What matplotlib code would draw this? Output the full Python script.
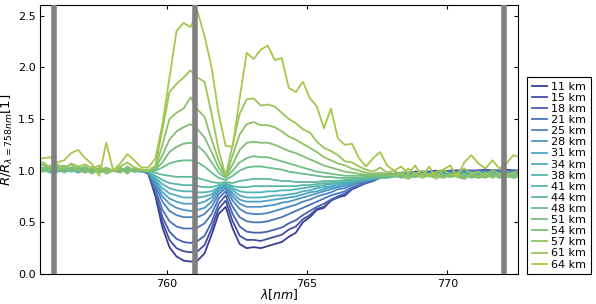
import numpy as np
import matplotlib
matplotlib.use("Agg")
import matplotlib.pyplot as plt
from matplotlib.colors import LinearSegmentedColormap

# Wavelength grid of the spectra [nm]
wavelength = np.linspace(755.35, 772.60, 70)

altitudes = ["11 km", "15 km", "18 km", "21 km", "25 km", "28 km", "31 km", "34 km", "38 km",
             "41 km", "44 km", "48 km", "51 km", "54 km", "57 km", "61 km", "64 km"]

# R / R(758nm) per tangent altitude
r_11 = [1.01, 1.00, 1.00, 1.01, 1.00, 1.00, 1.00, 1.00, 1.01, 1.00, 1.00, 1.00, 1.00, 1.00, 1.00, 1.00,
        0.97, 0.75, 0.45, 0.26, 0.17, 0.13, 0.12, 0.13, 0.20, 0.38, 0.58, 0.65, 0.44, 0.29, 0.25, 0.26, 0.25,
        0.27, 0.29, 0.31, 0.36, 0.40, 0.50, 0.55, 0.62, 0.64, 0.71, 0.75, 0.76, 0.83, 0.86, 0.90, 0.92, 0.96, 0.97,
        0.97, 0.98, 0.98, 0.99, 0.99, 0.99, 1.00, 0.99, 1.00, 1.00, 1.00, 1.00, 1.00, 1.01, 1.00, 1.00, 1.01, 1.00, 1.00]
r_15 = [1.00, 1.01, 1.00, 1.00, 1.01, 1.00, 1.00, 1.01, 1.00, 1.00, 1.00, 1.00, 1.01, 1.00, 1.00, 1.00,
        0.97, 0.77, 0.50, 0.33, 0.25, 0.22, 0.21, 0.22, 0.28, 0.44, 0.63, 0.71, 0.51, 0.37, 0.33, 0.33, 0.32,
        0.34, 0.36, 0.38, 0.43, 0.46, 0.53, 0.57, 0.63, 0.65, 0.71, 0.74, 0.76, 0.82, 0.85, 0.88, 0.90, 0.94, 0.96,
        0.97, 0.98, 0.98, 0.98, 0.99, 0.99, 0.99, 0.99, 1.00, 1.00, 1.00, 1.00, 1.00, 1.00, 1.00, 1.00, 1.00, 1.00, 1.00]
r_18 = [1.02, 1.01, 1.00, 1.01, 1.00, 1.01, 1.00, 1.00, 1.00, 1.01, 1.00, 1.00, 1.00, 1.01, 1.00, 1.00,
        0.98, 0.79, 0.55, 0.41, 0.34, 0.31, 0.30, 0.32, 0.37, 0.50, 0.68, 0.76, 0.58, 0.46, 0.41, 0.40, 0.40,
        0.41, 0.43, 0.45, 0.49, 0.52, 0.57, 0.61, 0.65, 0.68, 0.72, 0.75, 0.78, 0.82, 0.85, 0.88, 0.90, 0.93, 0.95,
        0.96, 0.97, 0.98, 0.98, 0.98, 0.99, 0.99, 0.99, 0.99, 1.00, 1.00, 0.99, 1.00, 1.00, 1.00, 1.00, 1.00, 1.00, 1.00]
r_21 = [1.01, 1.02, 1.00, 1.00, 1.02, 1.01, 1.00, 0.99, 1.00, 1.00, 1.00, 1.00, 1.01, 1.00, 1.00, 1.00,
        0.98, 0.82, 0.62, 0.51, 0.46, 0.44, 0.44, 0.45, 0.49, 0.58, 0.73, 0.80, 0.65, 0.55, 0.51, 0.50, 0.50,
        0.51, 0.53, 0.55, 0.58, 0.61, 0.64, 0.67, 0.70, 0.73, 0.76, 0.78, 0.80, 0.84, 0.86, 0.89, 0.91, 0.93, 0.95,
        0.96, 0.97, 0.97, 0.98, 0.98, 0.98, 0.99, 0.99, 0.99, 0.99, 0.99, 1.00, 0.99, 1.00, 0.99, 1.00, 1.00, 0.99, 1.00]
r_25 = [1.02, 1.00, 1.01, 0.99, 1.01, 1.02, 1.00, 1.00, 1.01, 0.99, 1.00, 1.00, 1.00, 1.01, 1.00, 0.99,
        0.99, 0.85, 0.70, 0.61, 0.57, 0.55, 0.55, 0.55, 0.58, 0.65, 0.77, 0.83, 0.71, 0.63, 0.59, 0.58, 0.58,
        0.59, 0.61, 0.63, 0.65, 0.67, 0.70, 0.72, 0.75, 0.77, 0.79, 0.82, 0.83, 0.86, 0.88, 0.90, 0.91, 0.93, 0.95,
        0.96, 0.96, 0.97, 0.97, 0.98, 0.98, 0.98, 0.98, 0.99, 0.99, 0.99, 0.99, 0.99, 0.99, 0.99, 0.99, 0.99, 0.99, 0.99]
r_28 = [1.00, 1.02, 0.99, 1.01, 1.00, 1.01, 1.02, 0.99, 1.00, 1.01, 0.99, 1.00, 1.01, 1.00, 1.00, 1.00,
        0.99, 0.87, 0.75, 0.68, 0.64, 0.62, 0.61, 0.62, 0.64, 0.70, 0.80, 0.85, 0.75, 0.68, 0.65, 0.65, 0.65,
        0.66, 0.67, 0.69, 0.70, 0.72, 0.74, 0.76, 0.78, 0.80, 0.82, 0.84, 0.85, 0.87, 0.89, 0.90, 0.92, 0.93, 0.95,
        0.96, 0.96, 0.97, 0.97, 0.97, 0.98, 0.98, 0.98, 0.98, 0.98, 0.98, 0.99, 0.98, 0.99, 0.98, 0.98, 0.99, 0.98, 0.98]
r_31 = [1.03, 1.01, 1.00, 1.02, 0.99, 1.00, 1.01, 1.00, 1.02, 1.00, 1.00, 1.00, 0.99, 1.01, 1.00, 1.00,
        0.99, 0.89, 0.79, 0.73, 0.70, 0.68, 0.68, 0.68, 0.70, 0.74, 0.82, 0.86, 0.78, 0.72, 0.70, 0.70, 0.70,
        0.71, 0.72, 0.73, 0.74, 0.75, 0.77, 0.79, 0.80, 0.82, 0.84, 0.85, 0.87, 0.88, 0.90, 0.91, 0.92, 0.94, 0.95,
        0.96, 0.96, 0.96, 0.97, 0.97, 0.97, 0.97, 0.98, 0.97, 0.98, 0.98, 0.98, 0.98, 0.98, 0.98, 0.97, 0.98, 0.98, 0.97]
r_34 = [1.01, 1.03, 1.00, 1.00, 1.02, 0.99, 1.01, 1.02, 0.99, 1.01, 1.00, 1.00, 1.01, 0.99, 1.00, 1.00,
        0.99, 0.91, 0.83, 0.78, 0.76, 0.74, 0.74, 0.74, 0.75, 0.77, 0.83, 0.87, 0.81, 0.76, 0.74, 0.74, 0.74,
        0.75, 0.76, 0.76, 0.77, 0.78, 0.80, 0.81, 0.83, 0.84, 0.85, 0.87, 0.88, 0.89, 0.90, 0.92, 0.93, 0.94, 0.95,
        0.96, 0.96, 0.96, 0.96, 0.97, 0.97, 0.97, 0.97, 0.97, 0.97, 0.97, 0.98, 0.97, 0.97, 0.97, 0.97, 0.97, 0.97, 0.97]
r_38 = [0.99, 1.02, 1.01, 1.03, 1.00, 1.01, 0.98, 1.01, 1.00, 1.02, 0.99, 1.00, 1.00, 1.01, 0.99, 1.00,
        0.99, 0.93, 0.87, 0.83, 0.81, 0.80, 0.80, 0.79, 0.79, 0.80, 0.84, 0.88, 0.83, 0.80, 0.79, 0.79, 0.79,
        0.80, 0.80, 0.81, 0.81, 0.82, 0.83, 0.84, 0.85, 0.86, 0.87, 0.88, 0.89, 0.90, 0.91, 0.92, 0.93, 0.94, 0.95,
        0.96, 0.95, 0.96, 0.96, 0.96, 0.96, 0.97, 0.96, 0.97, 0.96, 0.97, 0.97, 0.96, 0.97, 0.96, 0.96, 0.97, 0.96, 0.96]
r_41 = [1.02, 1.00, 1.03, 0.99, 1.01, 1.03, 1.00, 0.99, 1.02, 1.00, 1.01, 1.00, 0.99, 1.01, 1.00, 0.99,
        0.99, 0.95, 0.91, 0.88, 0.87, 0.86, 0.86, 0.85, 0.84, 0.84, 0.86, 0.88, 0.85, 0.84, 0.84, 0.85, 0.85,
        0.85, 0.85, 0.85, 0.85, 0.85, 0.86, 0.86, 0.87, 0.88, 0.88, 0.89, 0.90, 0.91, 0.92, 0.93, 0.94, 0.94, 0.95,
        0.95, 0.96, 0.95, 0.96, 0.96, 0.95, 0.96, 0.96, 0.95, 0.96, 0.96, 0.96, 0.95, 0.96, 0.95, 0.96, 0.95, 0.96, 0.95]
r_44 = [1.04, 1.01, 0.98, 1.02, 1.00, 1.02, 0.99, 1.03, 1.00, 0.98, 1.01, 1.00, 1.02, 0.99, 1.01, 1.00,
        1.00, 0.98, 0.96, 0.95, 0.94, 0.94, 0.94, 0.93, 0.91, 0.89, 0.88, 0.89, 0.88, 0.90, 0.91, 0.92, 0.92,
        0.92, 0.91, 0.90, 0.90, 0.89, 0.89, 0.89, 0.89, 0.90, 0.90, 0.90, 0.91, 0.91, 0.92, 0.92, 0.93, 0.93, 0.93,
        0.94, 0.95, 0.95, 0.94, 0.96, 0.95, 0.94, 0.96, 0.95, 0.95, 0.94, 0.96, 0.95, 0.94, 0.95, 0.95, 0.94, 0.95, 0.95]
r_48 = [0.97, 1.03, 1.01, 0.99, 1.04, 1.00, 1.02, 0.98, 1.03, 1.00, 0.99, 1.00, 1.01, 1.02, 0.99, 1.00,
        1.00, 1.00, 1.03, 1.07, 1.09, 1.10, 1.10, 1.08, 1.04, 0.98, 0.93, 0.91, 0.95, 1.00, 1.03, 1.04, 1.04,
        1.03, 1.02, 1.01, 0.99, 0.98, 0.97, 0.96, 0.95, 0.94, 0.94, 0.93, 0.93, 0.93, 0.93, 0.94, 0.94, 0.94, 0.94,
        0.95, 0.94, 0.96, 0.94, 0.95, 0.96, 0.93, 0.95, 0.94, 0.96, 0.94, 0.95, 0.93, 0.95, 0.96, 0.94, 0.95, 0.93, 0.95]
r_51 = [1.05, 0.99, 1.02, 1.04, 0.98, 1.03, 1.01, 1.04, 0.99, 1.02, 0.97, 1.00, 1.03, 0.99, 1.02, 1.00,
        1.00, 1.01, 1.08, 1.18, 1.23, 1.26, 1.27, 1.24, 1.18, 1.08, 0.98, 0.93, 1.00, 1.08, 1.12, 1.14, 1.13,
        1.13, 1.11, 1.09, 1.07, 1.05, 1.03, 1.01, 0.99, 0.98, 0.97, 0.96, 0.95, 0.95, 0.95, 0.95, 0.95, 0.95, 0.95,
        0.96, 0.93, 0.95, 0.97, 0.94, 0.95, 0.93, 0.96, 0.94, 0.95, 0.97, 0.93, 0.95, 0.94, 0.96, 0.93, 0.95, 0.94, 0.96]
r_54 = [1.03, 1.06, 1.00, 1.03, 1.05, 0.99, 1.04, 1.01, 0.97, 1.03, 1.01, 1.00, 0.98, 1.04, 1.00, 1.01,
        1.00, 1.02, 1.15, 1.30, 1.38, 1.42, 1.45, 1.40, 1.32, 1.18, 1.03, 0.94, 1.06, 1.20, 1.27, 1.28, 1.27,
        1.27, 1.25, 1.22, 1.19, 1.17, 1.14, 1.11, 1.08, 1.05, 1.03, 1.01, 0.99, 0.98, 0.97, 0.96, 0.96, 0.96, 0.96,
        0.97, 0.95, 0.92, 0.96, 0.94, 0.97, 0.95, 0.93, 0.96, 0.94, 0.92, 0.96, 0.95, 0.93, 0.97, 0.94, 0.96, 0.93, 0.95]
r_57 = [0.94, 1.02, 1.05, 1.00, 1.03, 1.06, 1.01, 0.98, 1.04, 1.00, 1.03, 1.00, 1.02, 0.97, 1.03, 1.00,
        1.00, 1.03, 1.25, 1.50, 1.56, 1.60, 1.71, 1.59, 1.52, 1.30, 1.10, 0.94, 1.15, 1.35, 1.45, 1.47, 1.44,
        1.44, 1.42, 1.38, 1.33, 1.30, 1.26, 1.22, 1.18, 1.13, 1.10, 1.07, 1.05, 1.02, 1.00, 0.98, 0.97, 0.98, 0.97,
        0.95, 0.98, 0.94, 0.97, 0.93, 0.96, 0.98, 0.94, 0.95, 0.97, 0.93, 0.96, 0.94, 0.98, 0.93, 0.96, 0.95, 0.97, 0.94]
r_61 = [1.07, 1.08, 1.03, 1.06, 1.02, 1.07, 1.04, 1.06, 1.02, 1.05, 0.98, 1.00, 1.04, 1.08, 1.03, 1.01,
        1.00, 1.05, 1.40, 1.76, 1.84, 1.90, 1.97, 1.90, 1.86, 1.55, 1.20, 0.95, 1.25, 1.55, 1.69, 1.70, 1.63,
        1.64, 1.62, 1.56, 1.50, 1.46, 1.40, 1.37, 1.28, 1.22, 1.19, 1.15, 1.09, 1.08, 1.04, 1.01, 0.99, 1.03, 0.98,
        1.00, 0.96, 1.02, 0.97, 1.00, 0.94, 0.99, 1.01, 0.96, 0.98, 1.02, 0.97, 0.99, 0.95, 1.00, 0.97, 0.96, 0.98, 1.00]
r_64 = [1.11, 1.12, 1.13, 1.08, 1.10, 1.17, 1.20, 1.12, 1.06, 0.95, 1.27, 1.00, 1.07, 1.16, 1.10, 1.03,
        1.03, 1.12, 1.45, 1.90, 2.35, 2.43, 2.39, 2.54, 2.30, 2.00, 1.55, 1.24, 1.23, 1.70, 2.14, 2.08, 2.17,
        2.21, 2.07, 2.09, 1.80, 1.76, 1.86, 1.70, 1.62, 1.41, 1.60, 1.31, 1.25, 1.26, 1.12, 1.04, 1.12, 1.18, 1.05,
        1.00, 1.04, 0.97, 1.05, 0.94, 1.04, 0.92, 1.01, 1.05, 0.94, 1.08, 1.15, 1.07, 1.02, 1.10, 1.02, 1.07, 1.15, 1.13]

series = [r_11, r_15, r_18, r_21, r_25, r_28, r_31, r_34, r_38,
          r_41, r_44, r_48, r_51, r_54, r_57, r_61, r_64]

# marked wavelengths (gray bars)
marked = [756.0, 761.0, 772.0]

cmap = LinearSegmentedColormap.from_list(
    "alt", ["#3b3c95", "#4a6db6", "#4e9cc6", "#52b5b5", "#64bb92", "#86c06e", "#a8c64c"])
colors = [cmap(c) for c in np.linspace(0, 1, len(series))]

plt.rcParams['xtick.direction'] = 'in'
plt.rcParams['ytick.direction'] = 'in'
plt.rcParams['xtick.top'] = True
plt.rcParams['ytick.right'] = True

fig = plt.figure(figsize=(5.96, 3.04), dpi=100)
ax = fig.add_axes([0.0676, 0.0987, 0.801, 0.8839])

for vals, col, lab in zip(series, colors, altitudes):
    ax.plot(wavelength, vals, color=col, lw=1.3, label=lab)

for m in marked:
    ax.axvline(m, color='#808080', lw=4, zorder=3)

ax.set_xlim(755.5, 772.5)
ax.set_ylim(0, 2.6)
ax.set_xticks([760, 765, 770])
ax.set_yticks([0.0, 0.5, 1.0, 1.5, 2.0, 2.5])
ax.tick_params(labelsize=8, length=3)
ax.set_xlabel(r'$\lambda[nm]$', fontsize=9, labelpad=-1)
ax.set_ylabel(r'$R/R_{\lambda=758nm}[1]$', fontsize=9.5, labelpad=2)

leg = ax.legend(loc='lower left', bbox_to_anchor=(1.02, 0.0), borderaxespad=0,
                fontsize=8, labelspacing=0.1, handlelength=1.35, handletextpad=0.4,
                borderpad=0.4, fancybox=False, framealpha=1, edgecolor='black')
leg.get_frame().set_linewidth(0.8)

fig.savefig('out.png', dpi=100)
